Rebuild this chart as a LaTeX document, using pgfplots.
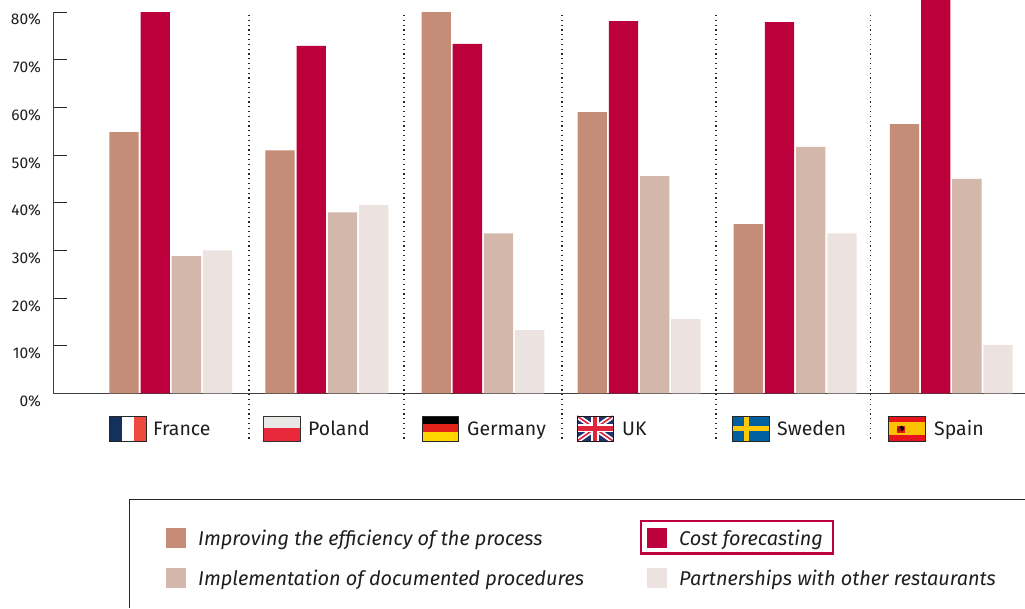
\documentclass[border=0pt]{standalone}
\usepackage{pgfplots}
\pgfplotsset{compat=1.18}
\usepackage{fontspec}
\setmainfont{Fira Sans}
\definecolor{c1}{HTML}{C58D78}
\definecolor{c2}{HTML}{BC003C}
\definecolor{c3}{HTML}{D3B7AA}
\definecolor{c4}{HTML}{ECE2E0}
\definecolor{txt}{HTML}{1E1E1E}
\definecolor{frb}{HTML}{14305C}
\definecolor{frr}{HTML}{EE4B3E}
\definecolor{plw}{HTML}{E8E8E6}
\definecolor{plr}{HTML}{E9283C}
\definecolor{der}{HTML}{E2231A}
\definecolor{dey}{HTML}{FFD500}
\definecolor{ukb}{HTML}{20336B}
\definecolor{ukr}{HTML}{E0243C}
\definecolor{seb}{HTML}{005F9E}
\definecolor{sey}{HTML}{FCC80A}
\definecolor{esr}{HTML}{E8141C}
\definecolor{esy}{HTML}{FCC200}
\begin{document}
\begin{tikzpicture}
\useasboundingbox (0,0) rectangle (1025pt,608pt);
\clip (0,0) rectangle (1025pt,608pt);
\begin{axis}[
  at={(53pt,214.5pt)}, anchor=south west, scale only axis,
  width=972pt, height=381.5pt,
  ybar, clip=false,
  xmin=-0.7545, xmax=5.4725, ymin=0, ymax=80,
  axis x line=bottom, axis y line=left,
  axis line style={-, color=black!75, line width=0.9pt},
  xtick=\empty,
  ytick={0,10,20,30,40,50,60,70,80},
  yticklabels={0\%,10\%,20\%,30\%,40\%,50\%,60\%,70\%,80\%},
  tick align=inside, major tick length=14pt,
  y tick style={color=black!85, line width=0.7pt},
  yticklabel style={font=\fontsize{15.5}{17}\selectfont, text=txt, anchor=east, xshift=-8.5pt, yshift=-7.7pt},
  bar width=29.3pt,
]
\addplot[fill=c1, draw=none, bar shift=-46.8pt] coordinates {(0,54.8) (1,51) (2,80) (3,59) (4,35.5) (5,56.5)};
\addplot[fill=c2, draw=none, bar shift=-15.6pt] coordinates {(0,80) (1,72.9) (2,73.3) (3,78.1) (4,77.9) (5,83)};
\addplot[fill=c3, draw=none, bar shift=15.6pt] coordinates {(0,28.8) (1,38) (2,33.6) (3,45.6) (4,51.7) (5,45)};
\addplot[fill=c4, draw=none, bar shift=46.8pt] coordinates {(0,30) (1,39.5) (2,13.3) (3,15.6) (4,33.6) (5,10.2)};
\end{axis}
\begin{scope}[shift={(0pt,608pt)},x=1pt,y=-1pt]
% separators
\foreach \x in {249,404,562,716,870.5}
  \draw[black!85, line width=1.1pt, dash pattern=on 1.2pt off 3.6pt] (\x,15) -- (\x,441);
% France
\fill[frb] (109,416) rectangle (122,441);
\fill[white] (122,416) rectangle (134,441);
\fill[frr] (134,416) rectangle (146,441);
\draw[black!85, line width=0.8pt] (109,416) rectangle (146,441);
% Poland
\fill[plw] (263,416) rectangle (300,428.5);
\fill[plr] (263,428.5) rectangle (300,441);
\draw[black!80, line width=0.8pt] (263,416) rectangle (300,441);
% Germany
\fill[black] (422,416) rectangle (458,424.5);
\fill[der] (422,424.5) rectangle (458,432);
\fill[dey] (422,432) rectangle (458,441);
\draw[black!85, line width=0.8pt] (422,416) rectangle (458,441);
% UK
\begin{scope}
\clip (577,416) rectangle (613,441);
\fill[ukb] (577,416) rectangle (613,441);
\draw[white, line width=5pt] (577,416) -- (613,441) (613,416) -- (577,441);
\draw[ukr, line width=1.6pt] (577,416) -- (613,441) (613,416) -- (577,441);
\draw[white, line width=8pt] (595,416) -- (595,441) (577,428.5) -- (613,428.5);
\draw[ukr, line width=4.5pt] (595,416) -- (595,441) (577,428.5) -- (613,428.5);
\end{scope}
\draw[black!90, line width=0.8pt] (577,416) rectangle (613,441);
% Sweden
\fill[seb] (732,416) rectangle (769,441);
\fill[sey] (743.5,416) rectangle (748.5,441);
\fill[sey] (732,426.5) rectangle (769,431);
\draw[black!85, line width=0.8pt] (732,416) rectangle (769,441);
% Spain
\fill[esr] (888,416) rectangle (925,441);
\fill[esy] (888,422.5) rectangle (925,435);
\fill[esr] (897,426) rectangle (905,433);
\fill[black] (901.5,428.5) circle (2.6);
\fill[esr!70!black] (899,429.5) circle (2.2);
\draw[black!85, line width=0.8pt] (888,416) rectangle (925,441);
% country labels
\begin{scope}[every node/.style={anchor=base west, inner sep=0pt, text=txt, font=\fontsize{19.5}{22}\selectfont}]
\node at (153,435.8) {France};
\node at (308,435.8) {Poland};
\node at (467,435.8) {Germany};
\node at (622,435.8) {UK};
\node at (777,435.8) {Sweden};
\node at (934,435.8) {Spain};
\end{scope}
% legend frame
\draw[black!85, line width=0.8pt] (129,608) -- (129,499.5) -- (1025,499.5);
\fill[c1] (166,528) rectangle (186,548);
\fill[c3] (166,568) rectangle (186,588);
\fill[c2] (647,528) rectangle (667,548);
\fill[c4] (647,568) rectangle (667,588);
\draw[c2, line width=2.2pt] (641,521) rectangle (833,553.5);
\begin{scope}[every node/.style={anchor=base west, inner sep=0pt, text=txt, font=\fontsize{19.9}{22}\selectfont\itshape}]
\node at (198,545.3) {Improving the efficiency of the process};
\node at (198,585.3) {Implementation of documented procedures};
\node at (679,545.3) {Cost forecasting};
\node at (679,585.3) {Partnerships with other restaurants};
\end{scope}
\end{scope}
\end{tikzpicture}
\end{document}
